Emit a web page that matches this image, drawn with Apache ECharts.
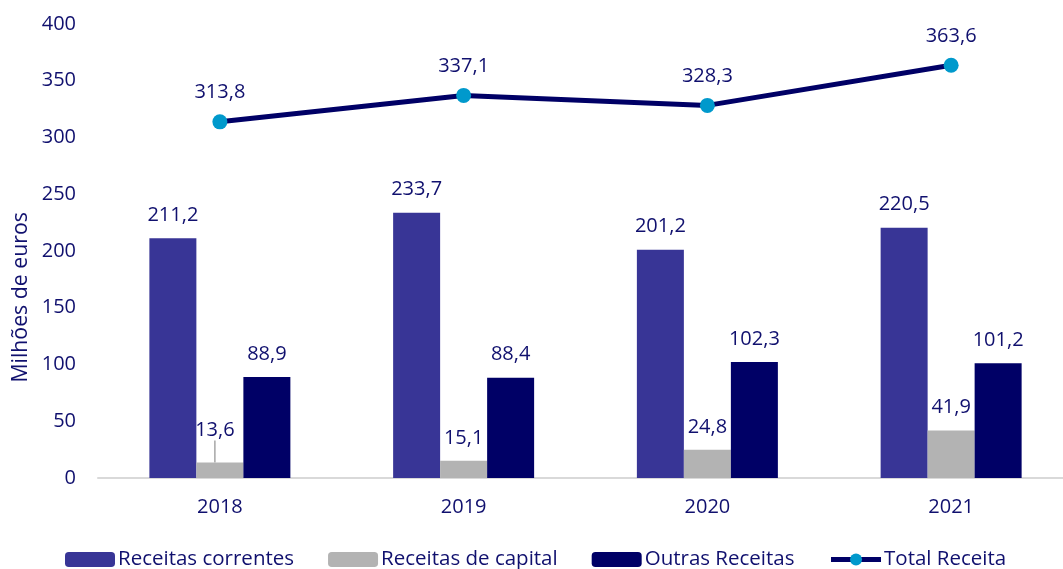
<!DOCTYPE html>
<html><head><meta charset="utf-8">
<script src="https://cdn.jsdelivr.net/npm/echarts@6/dist/echarts.min.js"></script>
<style>html,body{margin:0;padding:0;background:#fff}#c{width:1063px;height:569px}</style>
</head><body><div id="c"></div>
<script>
const categories = ['2018','2019','2020','2021'];
const receitasCorrentes = [211.2, 233.7, 201.2, 220.5];
const receitasCapital = [13.6, 15.1, 24.8, 41.9];
const outrasReceitas = [88.9, 88.4, 102.3, 101.2];
const totalReceita = [313.8, 337.1, 328.3, 363.6];
const yTicks = [0, 50, 100, 150, 200, 250, 300, 350, 400];

const txt = '#10106e';
const font = 'Open Sans';
const fmt = p => String(p.value).replace('.', ',');
const chart = echarts.init(document.getElementById('c'));
const barLabel = {show:true, position:'top', distance:13, color:txt, fontFamily:font, fontSize:20, formatter:fmt};
chart.setOption({
  animation:false,
  textStyle:{fontFamily:font},
  grid:{left:98, width:975, top:24, bottom:91, outerBoundsMode:'none', containLabel:false},
  legend:{
    bottom:-6, left:60, itemWidth:50, itemHeight:15, itemGap:34,
    textStyle:{color:txt, fontFamily:font, fontSize:20.5, padding:[0,0,0,-2]},
    data:['Receitas correntes','Receitas de capital','Outras Receitas',
      {name:'Total Receita', lineStyle:{width:5, color:'#000066'}}]
  },
  graphic:[{type:'text', left:10, top:212, rotation:Math.PI/2, style:{text:'Milhões de euros', fill:txt, font:'21.3px "Open Sans"'}}],
  xAxis:{
    type:'category', data:categories,
    axisLine:{lineStyle:{color:'#d9d9d9', width:2}},
    axisTick:{show:false},
    axisLabel:{color:txt, fontFamily:font, fontSize:20, margin:19}
  },
  yAxis:{
    type:'value', min:yTicks[0], max:yTicks[yTicks.length-1], interval:50,
    axisLine:{show:false}, axisTick:{show:false}, splitLine:{show:false},
    axisLabel:{color:txt, fontFamily:font, fontSize:20, margin:22}
  },
  series:[
    {name:'Receitas correntes', type:'bar', data:receitasCorrentes, barWidth:47, barGap:'0%',
      itemStyle:{color:'#383596'}, label:barLabel},
    {name:'Receitas de capital', type:'bar', barWidth:47,
      data:receitasCapital.map((v,i)=> i===0 ? {value:v, labelLine:{show:true}} : {value:v, labelLine:{show:false}}),
      itemStyle:{color:'#b3b3b3'}, label:barLabel,
      labelLayout:function(p){ if(p.dataIndex===0) return {dx:-5, dy:-9}; return {}; },
      labelLine:{show:false, length2:0, lineStyle:{color:'#a6a6a6', width:1.5}}},
    {name:'Outras Receitas', type:'bar', data:outrasReceitas, barWidth:47,
      itemStyle:{color:'#000066'}, label:barLabel},
    {name:'Total Receita', type:'line', data:totalReceita, symbol:'circle', symbolSize:15,
      lineStyle:{color:'#000066', width:5}, itemStyle:{color:'#0099cc'},
      label:{show:true, position:'top', distance:12, color:txt, fontFamily:font, fontSize:20, formatter:fmt}}
  ]
});
</script></body></html>
